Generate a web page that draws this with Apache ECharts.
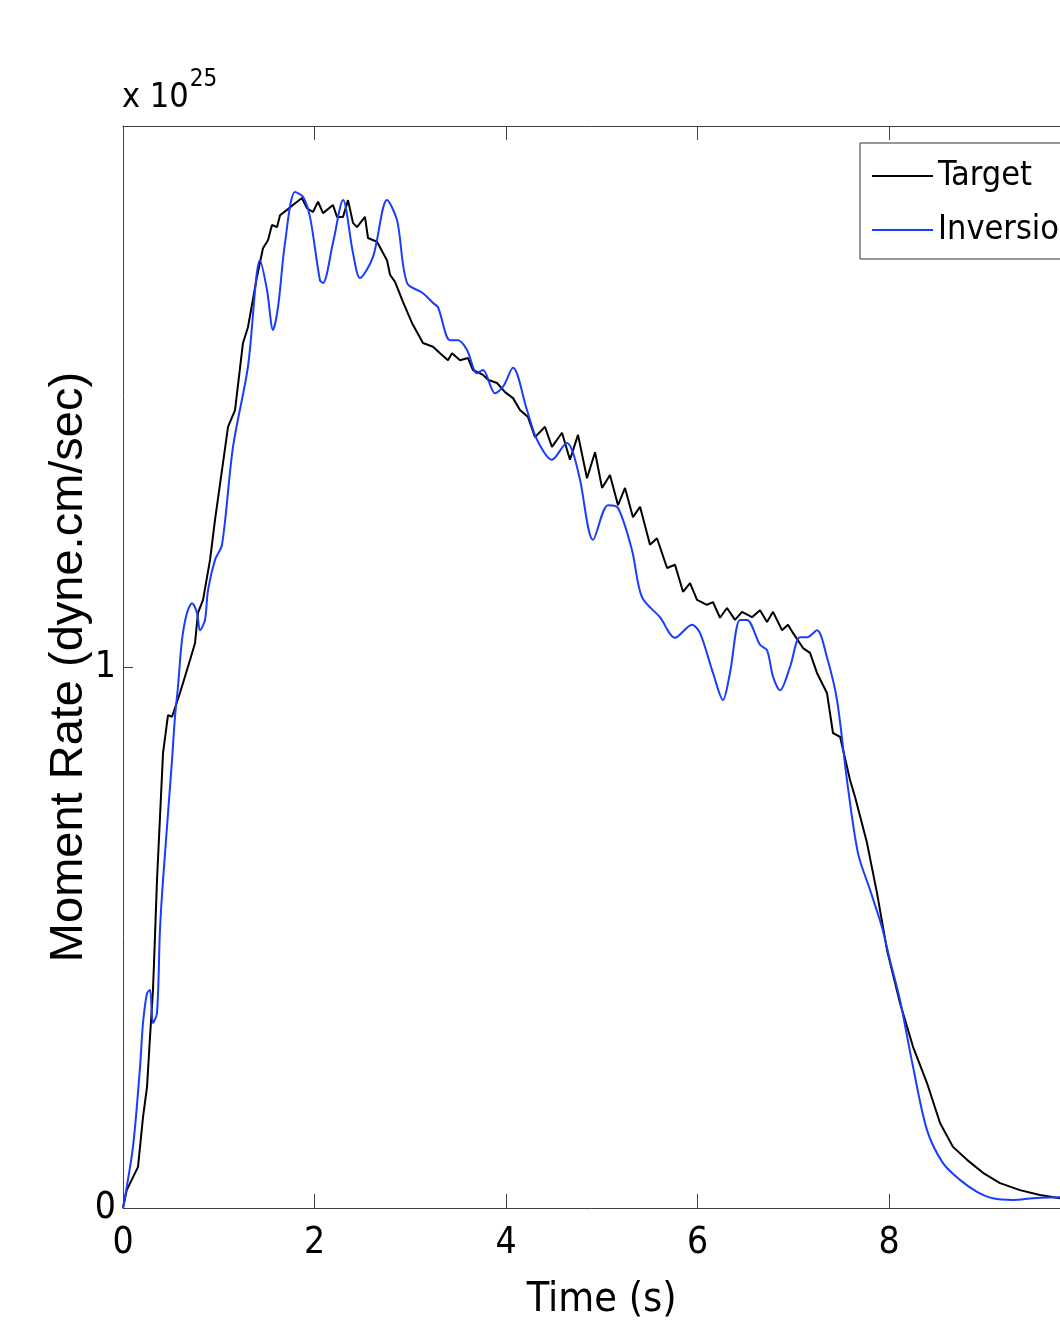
<!DOCTYPE html>
<html>
<head>
<meta charset="utf-8">
<script src="https://cdn.jsdelivr.net/npm/echarts@6/dist/echarts.min.js"></script>
<style>html,body{margin:0;padding:0;background:#fff;overflow:hidden;}#c{width:1060px;height:1335px;}</style>
</head>
<body>
<div id="c"></div>
<script>
// Time (s) and moment rate (x 1e25 dyne.cm/sec)
var targetT = [0,0.039,0.157,0.209,0.251,0.282,0.313,0.324,0.355,0.418,0.470,0.512,0.595,0.700,0.752,0.783,0.836,0.909,0.961,1.097,1.170,1.253,1.305,1.399,1.462,1.514,1.556,1.608,1.640,1.713,1.775,1.869,1.922,1.984,2.037,2.089,2.193,2.235,2.298,2.350,2.402,2.444,2.527,2.559,2.653,2.757,2.789,2.841,2.924,3.018,3.133,3.238,3.311,3.394,3.436,3.520,3.603,3.655,3.760,3.812,3.906,3.990,4.073,4.146,4.230,4.303,4.407,4.480,4.585,4.668,4.752,4.846,4.930,5.003,5.086,5.170,5.243,5.326,5.400,5.504,5.577,5.682,5.765,5.849,5.922,5.995,6.099,6.162,6.235,6.308,6.392,6.465,6.569,6.653,6.726,6.789,6.883,6.945,6.997,7.102,7.175,7.248,7.352,7.415,7.489,7.593,7.645,7.770,7.875,7.979,8.115,8.251,8.397,8.533,8.668,8.815,8.982,9.159,9.368,9.577,9.786,10.0];
var targetV = [0,0.033,0.076,0.168,0.224,0.316,0.403,0.453,0.606,0.841,0.911,0.908,0.952,1.013,1.044,1.100,1.124,1.198,1.272,1.444,1.475,1.599,1.628,1.721,1.774,1.789,1.817,1.813,1.835,1.845,1.854,1.867,1.848,1.841,1.860,1.839,1.854,1.832,1.832,1.863,1.821,1.813,1.832,1.793,1.786,1.752,1.725,1.712,1.675,1.636,1.599,1.592,1.580,1.567,1.580,1.567,1.571,1.549,1.540,1.531,1.525,1.508,1.497,1.475,1.462,1.425,1.444,1.407,1.433,1.383,1.429,1.349,1.397,1.331,1.355,1.299,1.331,1.277,1.296,1.226,1.238,1.183,1.189,1.139,1.155,1.124,1.115,1.120,1.091,1.109,1.087,1.102,1.092,1.105,1.083,1.102,1.068,1.078,1.063,1.035,1.026,0.989,0.952,0.878,0.871,0.791,0.760,0.675,0.582,0.477,0.379,0.298,0.231,0.157,0.113,0.089,0.065,0.046,0.033,0.024,0.018,0.015];
var inversionT = [0,0.104,0.178,0.209,0.251,0.282,0.313,0.355,0.386,0.418,0.512,0.543,0.574,0.616,0.668,0.721,0.773,0.804,0.856,0.888,0.961,1.034,1.149,1.305,1.431,1.504,1.567,1.619,1.692,1.796,1.880,1.953,2.057,2.089,2.193,2.298,2.402,2.475,2.611,2.757,2.862,2.966,3.133,3.238,3.290,3.415,3.499,3.593,3.697,3.760,3.885,3.969,4.073,4.219,4.324,4.480,4.637,4.700,4.773,4.909,5.065,5.170,5.316,5.420,5.608,5.765,5.943,6.026,6.162,6.266,6.339,6.444,6.517,6.653,6.726,6.789,6.862,6.966,7.070,7.144,7.248,7.352,7.457,7.561,7.676,7.802,7.927,8.010,8.115,8.251,8.397,8.564,8.741,8.919,9.086,9.295,9.504,9.786,10.0];
var inversionV = [0,0.113,0.261,0.342,0.397,0.403,0.342,0.360,0.514,0.606,0.828,0.908,0.963,1.050,1.100,1.118,1.100,1.068,1.087,1.142,1.198,1.226,1.407,1.555,1.752,1.697,1.623,1.665,1.784,1.878,1.869,1.832,1.715,1.710,1.784,1.863,1.765,1.719,1.758,1.863,1.826,1.710,1.691,1.673,1.665,1.604,1.604,1.586,1.543,1.549,1.506,1.518,1.553,1.475,1.420,1.383,1.414,1.396,1.346,1.235,1.299,1.294,1.216,1.129,1.092,1.054,1.078,1.063,0.989,0.939,0.989,1.087,1.087,1.041,1.031,0.982,0.957,1.000,1.055,1.055,1.068,1.018,0.939,0.791,0.656,0.588,0.519,0.458,0.384,0.261,0.144,0.083,0.052,0.030,0.018,0.015,0.018,0.020,0.020];
var seriesNames = ['Target', 'Inversion'];
var xTicks = {min: 0, max: 10, interval: 2};
var yTicks = {min: 0, max: 2, interval: 1};

function pairs(t, v) { return t.map(function (x, i) { return [x, v[i]]; }); }

var narrow = "'Liberation Sans Narrow', 'DejaVu Sans Condensed', 'Liberation Sans', sans-serif";
var axisCol = '#404040';

var chart = echarts.init(document.getElementById('c'), null, {renderer: 'canvas'});
chart.setOption({
  animation: false,
  backgroundColor: '#ffffff',
  grid: {left: 123, top: 126, width: 957.5, height: 1082, containLabel: false, outerBoundsMode: 'none'},
  xAxis: [{
    type: 'value', min: xTicks.min, max: xTicks.max, interval: xTicks.interval,
    name: 'Time (s)', nameLocation: 'middle', nameGap: 72, nameMoveOverlap: false,
    nameTextStyle: {fontFamily: narrow, fontSize: 41, color: '#000'},
    axisLine: {show: true, onZero: false, lineStyle: {color: axisCol, width: 1}},
    axisTick: {show: true, inside: true, length: 14, lineStyle: {color: axisCol}},
    axisLabel: {fontFamily: narrow, fontSize: 37, color: '#000', margin: 17},
    splitLine: {show: false}
  }, {
    type: 'value', position: 'top', min: xTicks.min, max: xTicks.max, interval: xTicks.interval,
    axisLine: {show: true, onZero: false, lineStyle: {color: axisCol, width: 1}},
    axisTick: {show: true, inside: true, length: 14, lineStyle: {color: axisCol}},
    axisLabel: {show: false}, splitLine: {show: false}
  }],
  yAxis: [{
    type: 'value', min: yTicks.min, max: yTicks.max, interval: yTicks.interval,
    name: 'Moment Rate (dyne.cm/sec)', nameLocation: 'middle', nameGap: 30, nameRotate: 90, nameMoveOverlap: false,
    nameTextStyle: {fontFamily: "'Liberation Sans', Arial, sans-serif", fontSize: 47, color: '#000'},
    axisLine: {show: true, onZero: false, lineStyle: {color: axisCol, width: 1}},
    axisTick: {show: true, inside: true, length: 10, lineStyle: {color: axisCol}},
    axisLabel: {fontFamily: narrow, fontSize: 37, color: '#000', margin: 7, showMaxLabel: false},
    splitLine: {show: false}
  }, {
    type: 'value', position: 'right', min: yTicks.min, max: yTicks.max, interval: yTicks.interval,
    axisLine: {show: true, onZero: false, lineStyle: {color: axisCol, width: 1}},
    axisTick: {show: true, inside: true, length: 10, lineStyle: {color: axisCol}},
    axisLabel: {show: false}, splitLine: {show: false}
  }],
  legend: {
    orient: 'vertical', left: 860, top: 143,
    padding: [16, 14, 12, 12], itemGap: 20,
    itemWidth: 61, itemHeight: 2, icon: 'rect',
    borderColor: '#333', borderWidth: 1, backgroundColor: '#fff',
    textStyle: {fontFamily: narrow, fontSize: 34, color: '#000'},
    data: seriesNames
  },
  graphic: [
    {type: 'text', x: 122, y: 68, style: {
      text: '{a|x 10}{b|25}', fontFamily: narrow, fill: '#000',
      rich: {
        a: {fontFamily: narrow, fontSize: 34, color: '#000', verticalAlign: 'bottom'},
        b: {fontFamily: narrow, fontSize: 24, color: '#000', verticalAlign: 'bottom', padding: [0, 0, 23, 1]}
      }
    }}
  ],
  series: [{
    name: seriesNames[0], type: 'line', symbol: 'none', showSymbol: false,
    data: pairs(targetT, targetV),
    lineStyle: {color: '#000000', width: 2}, itemStyle: {color: '#000000'}
  }, {
    name: seriesNames[1], type: 'line', symbol: 'none', showSymbol: false, smooth: 0.3,
    data: pairs(inversionT, inversionV),
    lineStyle: {color: '#1a3cff', width: 2}, itemStyle: {color: '#1a3cff'}
  }]
});
</script>
</body>
</html>
